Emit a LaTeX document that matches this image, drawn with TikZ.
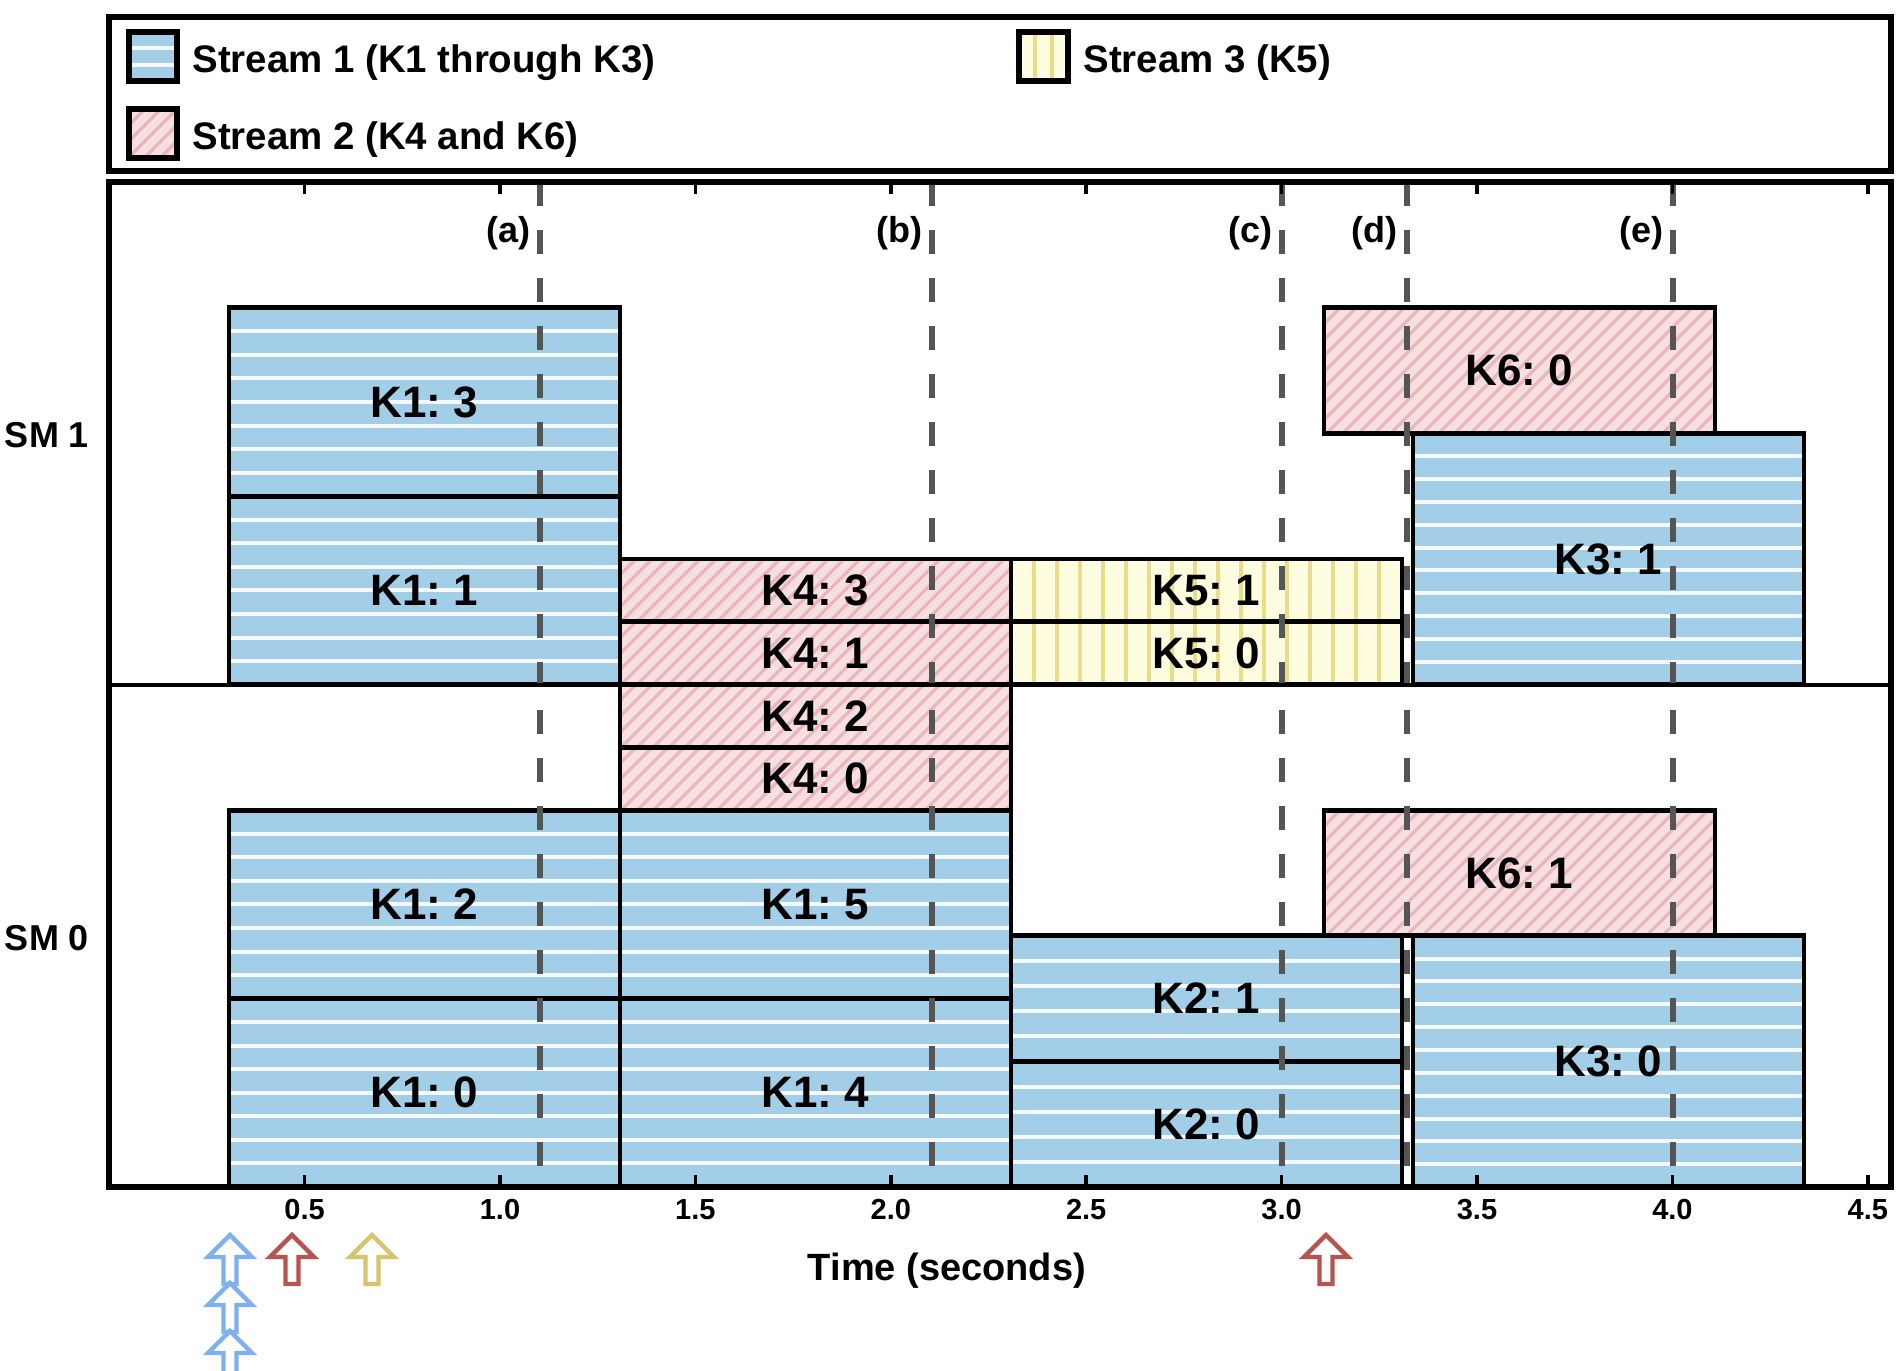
\documentclass[tikz,border=0pt]{standalone}
\usepackage{fontspec}
\setmainfont{Liberation Sans}
\frenchspacing
\definecolor{blueF}{HTML}{A3CEE8}
\definecolor{blueS}{HTML}{F4FAFF}
\definecolor{pinkF}{HTML}{F6DFDF}
\definecolor{pinkS}{HTML}{EBB5BF}
\definecolor{yelF}{HTML}{FFFDE0}
\definecolor{yelS}{HTML}{E9DC8A}
\definecolor{dashC}{HTML}{555555}
\definecolor{arrB}{HTML}{7EB0EE}
\definecolor{arrR}{HTML}{B85450}
\definecolor{arrY}{HTML}{D6C46E}
\newcommand\hstripes[6]{%
  \pgfmathsetmacro\stgap{(#4-#2)/#5}%
  \pgfmathtruncatemacro\stlast{#5-1}%
  \foreach \k in {1,...,\stlast}{\draw[#6] (#1,{#2+\k*\stgap}) -- (#3,{#2+\k*\stgap});}%
}
\newcommand\vstripes[6]{%
  \pgfmathsetmacro\stgap{(#3-#1)/#5}%
  \pgfmathtruncatemacro\stlast{#5-1}%
  \foreach \k in {1,...,\stlast}{\draw[#6] ({#1+\k*\stgap},#2) -- ({#1+\k*\stgap},#4);}%
}
\newcommand\dstripes[5]{%
  \begin{scope}
  \clip (#1,#2) rectangle (#3,#4);
  \pgfmathsetmacro\sth{#4-#2}%
  \pgfmathtruncatemacro\stn{(#3-#1+\sth)/16+1}%
  \foreach \k in {0,...,\stn}{\draw[#5] ({#1-\sth+\k*16},#4) -- ({#1+\k*16},#2);}%
  \end{scope}
}
\newcommand\blkbox[6]{%
  \node[blkframe, minimum width={(#3-#1)*0.5pt}, minimum height={(#4-#2)*0.5pt}] (#5) at ({(#1+#3)/2},{(#2+#4)/2}) {#6};%
}
\newcommand\blueblk[7]{%
  \fill[blueF] (#1,#2) rectangle (#3,#4);
  \hstripes{#1}{#2}{#3}{#4}{#5}{bstripe}
  \blkbox{#1}{#2}{#3}{#4}{#6}{#7}
}
\newcommand\yelblk[7]{%
  \fill[yelF] (#1,#2) rectangle (#3,#4);
  \vstripes{#1}{#2}{#3}{#4}{#5}{ystripe}
  \blkbox{#1}{#2}{#3}{#4}{#6}{#7}
}
\newcommand\pinkblk[6]{%
  \fill[pinkF] (#1,#2) rectangle (#3,#4);
  \dstripes{#1}{#2}{#3}{#4}{pstripe}
  \blkbox{#1}{#2}{#3}{#4}{#5}{#6}
}
\begin{document}
\begin{tikzpicture}[x=0.5pt,y=-0.5pt,
  blkframe/.style={draw=black, line width=2.4pt, inner sep=0pt, outer sep=0pt, font=\fontsize{22}{24}\selectfont\bfseries},
  bstripe/.style={draw=blueS, line width=2pt},
  ystripe/.style={draw=yelS, line width=2pt},
  pstripe/.style={draw=pinkS, line width=1.6pt},
  vline/.style={draw=dashC, line width=2.6pt, dash pattern=on 12pt off 12pt},
  frame/.style={draw=black, line width=2.75pt},
  swatch/.style={draw=black, line width=2.75pt},
  tickmark/.style={draw=black, line width=1.75pt},
  legtxt/.style={inner sep=0pt, font=\fontsize{19.2}{22}\selectfont\bfseries},
  smlbl/.style={inner sep=0pt, font=\fontsize{18}{21}\selectfont\bfseries},
  axlbl/.style={inner sep=0pt, font=\fontsize{19}{22}\selectfont\bfseries},
  ticklbl/.style={inner sep=0pt, font=\fontsize{14.5}{17}\selectfont\bfseries},
  dlbl/.style={inner sep=0pt, font=\fontsize{18}{21}\selectfont\bfseries},
  uparrow/.pic={\path[pic actions] (0,0) -- (22,22) -- (6.5,22) -- (6.5,49) -- (-6.5,49) -- (-6.5,22) -- (-22,22) -- cycle;},
  arr/.style={line width=2.2pt}
]
\useasboundingbox (0,0) rectangle (1903,1371);
\clip (0,0) rectangle (1903,1371);
\fill[white] (0,0) rectangle (1903,1371);

% legend
\fill[blueF] (129,32) rectangle (177,81);
\hstripes{129}{32}{177}{81}{3}{bstripe}
\draw[swatch] (129,32) rectangle (177,81);
\fill[pinkF] (129,109) rectangle (177,158);
\dstripes{129}{109}{177}{158}{pstripe}
\draw[swatch] (129,109) rectangle (177,158);
\fill[yelF] (1019,32) rectangle (1068,81);
\vstripes{1019}{32}{1068}{81}{3}{ystripe}
\draw[swatch] (1019,32) rectangle (1068,81);
\node[legtxt, anchor=base west] (ls1) at (192,72) {Stream 1 (K1 through K3)};
\node[legtxt, anchor=base west] (ls2) at (192,149) {Stream 2 (K4 and K6)};
\node[legtxt, anchor=base west] (ls3) at (1083,72) {Stream 3 (K5)};
\draw[frame] (109,17) rectangle (1891,171);

% blocks
\blueblk{229}{307.8}{620}{496.2}{8}{k13}{K1: 3}
\blueblk{229}{496.2}{620}{684.6}{8}{k11}{K1: 1}
\blueblk{229}{810.2}{620}{998.6}{8}{k12}{K1: 2}
\blueblk{229}{998.6}{620}{1187}{8}{k10}{K1: 0}
\blueblk{620}{810.2}{1011}{998.6}{8}{k15}{K1: 5}
\blueblk{620}{998.6}{1011}{1187}{8}{k14}{K1: 4}
\blueblk{1011}{935.8}{1402}{1061.4}{5}{k21}{K2: 1}
\blueblk{1011}{1061.4}{1402}{1187}{5}{k20}{K2: 0}
\blueblk{1413}{433.4}{1804}{684.6}{11}{k31}{K3: 1}
\blueblk{1413}{935.8}{1804}{1187}{11}{k30}{K3: 0}
\pinkblk{620}{559}{1011}{621.8}{k43}{K4: 3}
\pinkblk{620}{621.8}{1011}{684.6}{k41}{K4: 1}
\pinkblk{620}{684.6}{1011}{747.4}{k42}{K4: 2}
\pinkblk{620}{747.4}{1011}{810.2}{k40}{K4: 0}
\pinkblk{1324}{307.8}{1715}{433.4}{k60}{K6: 0}
\pinkblk{1324}{810.2}{1715}{935.8}{k61}{K6: 1}
\yelblk{1011}{559}{1402}{621.8}{17}{k51}{K5: 1}
\yelblk{1011}{621.8}{1402}{684.6}{17}{k50}{K5: 0}

% dashed markers
\foreach \nm/\xx in {a/540,b/932,c/1282,d/1407,e/1673}{
  \coordinate (top\nm) at (\xx,182);
  \coordinate (bot\nm) at (\xx,1187);
  \draw[vline] (top\nm) -- (bot\nm);
  \node[dlbl, anchor=base east] (lab\nm) at (\xx-9,242) {(\nm)};
}

% frame
\draw[frame] (109,182) rectangle (1891,1187);
\draw[line width=2pt] (109,684.6) -- (1891,684.6);

% ticks
\foreach \lab/\xx [count=\i] in {0.5/304.6,1.0/500,1.5/695.4,2.0/890.8,2.5/1086.2,3.0/1281.6,3.5/1477,4.0/1672.4,4.5/1867.8}{
  \draw[tickmark] (\xx,182) -- (\xx,194);
  \draw[tickmark] (\xx,1187) -- (\xx,1175);
  \node[ticklbl] (tick\i) at (\xx,1210) {\lab};
}

% axis labels
\node[axlbl, anchor=base] (tlab) at (947,1280) {Time (seconds)};
\node[smlbl] (sm1) at (47,435) {SM 1};
\node[smlbl] (sm0) at (47,938) {SM 0};

% arrival arrows
\pic[draw=arrB, arr] (arb1) at (230,1235) {uparrow};
\pic[draw=arrB, arr] (arb2) at (230,1283) {uparrow};
\pic[draw=arrB, arr] (arb3) at (230,1331) {uparrow};
\pic[draw=arrR, arr] (arr1) at (292,1235) {uparrow};
\pic[draw=arrY, arr] (ary1) at (372,1235) {uparrow};
\pic[draw=arrR, arr] (arr2) at (1326,1235) {uparrow};
\end{tikzpicture}
\end{document}
